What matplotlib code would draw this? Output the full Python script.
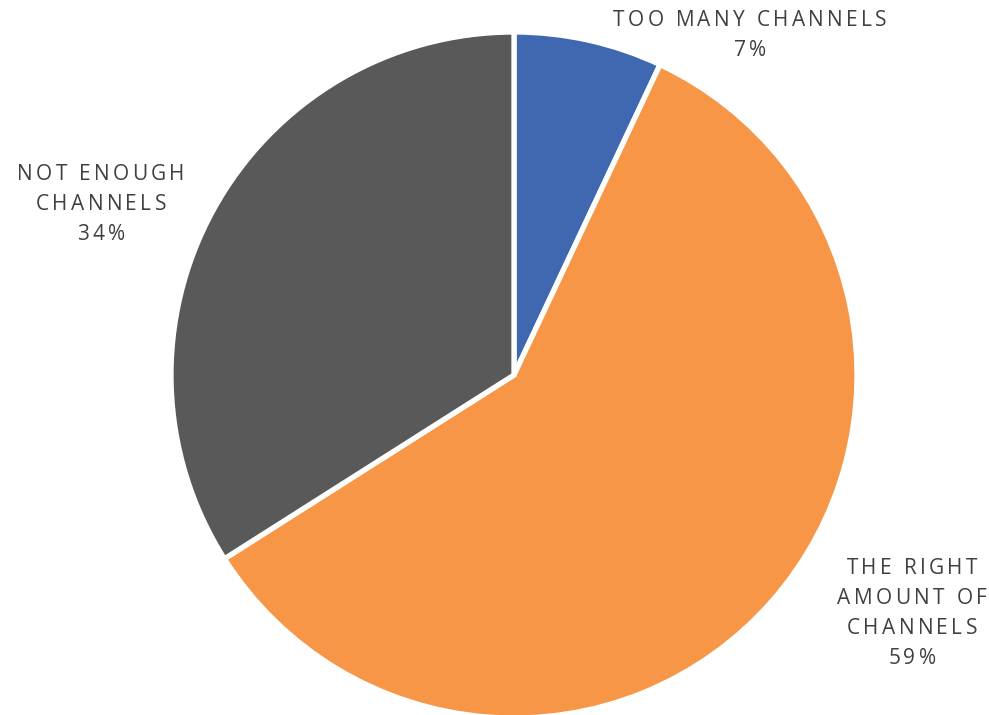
import matplotlib.pyplot as plt

# Encuesta: cantidad de canales
categorias = ["TOO MANY CHANNELS", "THE RIGHT\nAMOUNT OF\nCHANNELS", "NOT ENOUGH\nCHANNELS"]
porcentajes = [7, 59, 34]
colores = ["#4068B0", "#F79646", "#595959"]

# centro (x) y primera línea (y) de cada etiqueta, en píxeles desde arriba
pos_etiquetas = [(750, 21), (912, 569), (101, 174)]

FUENTE = "Open Sans"
TAM = 15           # pt
TRACKING = 3.3     # px extra entre letras
INTERLINEA = 30    # px
COLOR_TEXTO = "#404040"

W, H = 989, 715
fig = plt.figure(figsize=(W / 100, H / 100), dpi=100)
r_px = 343
cx, cy = 514, 375
ax = fig.add_axes([(cx - r_px) / W, (H - cy - r_px) / H,
                   2 * r_px / W, 2 * r_px / H])

ax.pie(porcentajes, colors=colores, startangle=90, counterclock=False,
       radius=1, wedgeprops=dict(edgecolor="white", linewidth=3.8))
ax.set_xlim(-1, 1)
ax.set_ylim(-1, 1)
ax.set_aspect("equal")
ax.axis("off")

renderer = fig.canvas.get_renderer()


def ancho(c):
    t = fig.text(0, 0, c, fontsize=TAM, family=FUENTE)
    w = t.get_window_extent(renderer).width
    t.remove()
    return w


def texto_espaciado(xc, y, linea):
    # dibuja una línea centrada con letras separadas (tracking)
    anchos = [ancho(c) for c in linea]
    total = sum(anchos) + TRACKING * (len(linea) - 1)
    x = xc - total / 2
    for c, w in zip(linea, anchos):
        fig.text(x / W, 1 - y / H, c, fontsize=TAM, family=FUENTE,
                 color=COLOR_TEXTO, ha="left", va="center")
        x += w + TRACKING


for cat, pct, (x, y) in zip(categorias, porcentajes, pos_etiquetas):
    lineas = cat.split("\n") + [f"{pct}%"]
    for i, linea in enumerate(lineas):
        texto_espaciado(x, y + i * INTERLINEA, linea)

fig.savefig("out.png", dpi=100)
